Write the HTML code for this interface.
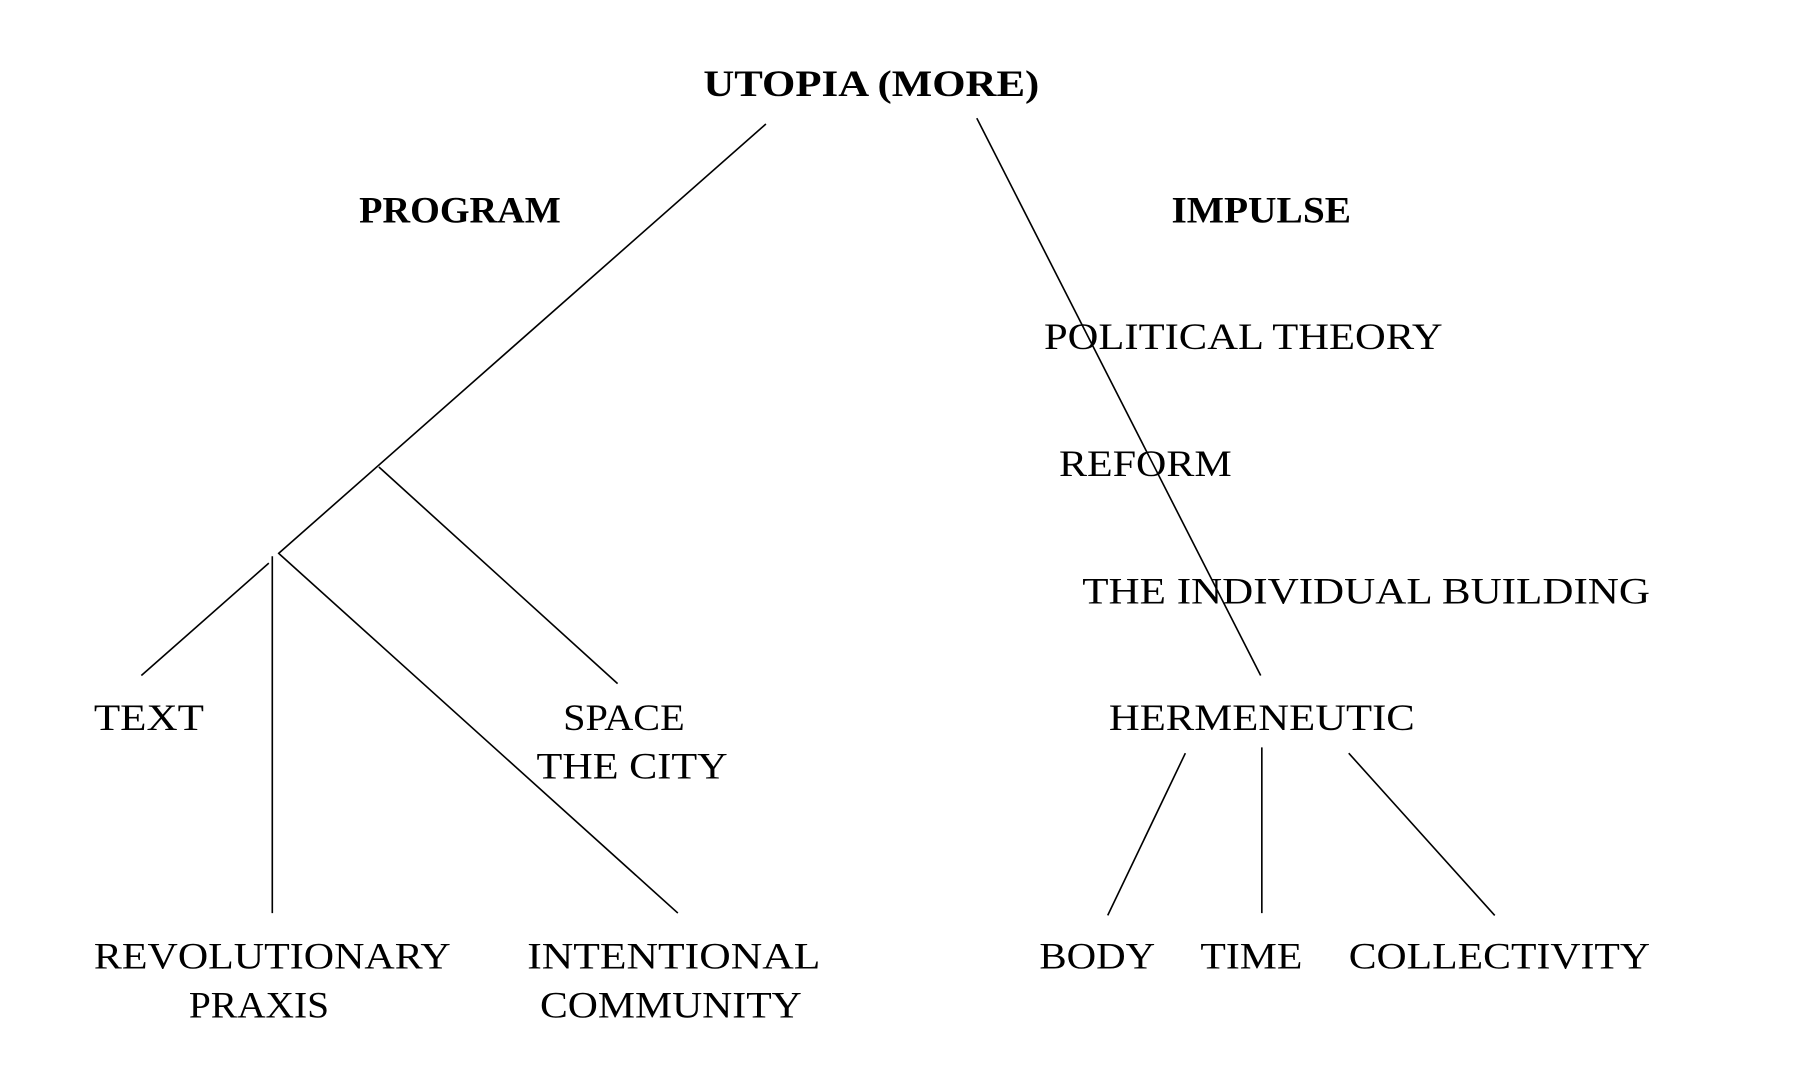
<!DOCTYPE html>
<html><head><meta charset="utf-8"><style>
html,body{margin:0;padding:0;background:#fff;}
svg{display:block;}
text{font-family:"Liberation Serif",serif;font-size:32px;fill:#000;}
.b{font-weight:bold;}
</style></head><body>
<svg width="1796" height="1068" viewBox="0 0 1550 921.7" preserveAspectRatio="none" xmlns="http://www.w3.org/2000/svg">
<g stroke="#000" stroke-width="1.4" fill="none">
<line x1="661" y1="107" x2="240" y2="478"/>
<line x1="327" y1="403" x2="533" y2="590"/>
<line x1="232" y1="486" x2="122" y2="583"/>
<line x1="235" y1="480" x2="235" y2="788"/>
<line x1="241" y1="478" x2="585" y2="788"/>
<line x1="843" y1="102" x2="1088" y2="583"/>
<line x1="1023" y1="650" x2="956" y2="790"/>
<line x1="1089" y1="645" x2="1089" y2="788"/>
<line x1="1164" y1="650" x2="1290" y2="790"/>
</g>
<text class="b" x="607" y="83" textLength="290" lengthAdjust="spacingAndGlyphs">UTOPIA (MORE)</text>
<text class="b" x="310" y="192" textLength="174" lengthAdjust="spacingAndGlyphs">PROGRAM</text>
<text class="b" x="1011" y="192" textLength="155" lengthAdjust="spacingAndGlyphs">IMPULSE</text>
<text x="901" y="301" textLength="344" lengthAdjust="spacingAndGlyphs">POLITICAL THEORY</text>
<text x="914" y="411" textLength="149" lengthAdjust="spacingAndGlyphs">REFORM</text>
<text x="934" y="521" textLength="490" lengthAdjust="spacingAndGlyphs">THE INDIVIDUAL BUILDING</text>
<text x="81" y="630" textLength="95" lengthAdjust="spacingAndGlyphs">TEXT</text>
<text x="486" y="630" textLength="105" lengthAdjust="spacingAndGlyphs">SPACE</text>
<text x="463" y="672" textLength="165" lengthAdjust="spacingAndGlyphs">THE CITY</text>
<text x="957" y="630" textLength="264" lengthAdjust="spacingAndGlyphs">HERMENEUTIC</text>
<text x="81" y="836" textLength="308" lengthAdjust="spacingAndGlyphs">REVOLUTIONARY</text>
<text x="163" y="878" textLength="121" lengthAdjust="spacingAndGlyphs">PRAXIS</text>
<text x="455" y="836" textLength="253" lengthAdjust="spacingAndGlyphs">INTENTIONAL</text>
<text x="466" y="878" textLength="226" lengthAdjust="spacingAndGlyphs">COMMUNITY</text>
<text x="897" y="836" textLength="100" lengthAdjust="spacingAndGlyphs">BODY</text>
<text x="1036" y="836" textLength="88" lengthAdjust="spacingAndGlyphs">TIME</text>
<text x="1164" y="836" textLength="260" lengthAdjust="spacingAndGlyphs">COLLECTIVITY</text>
</svg>
</body></html>
